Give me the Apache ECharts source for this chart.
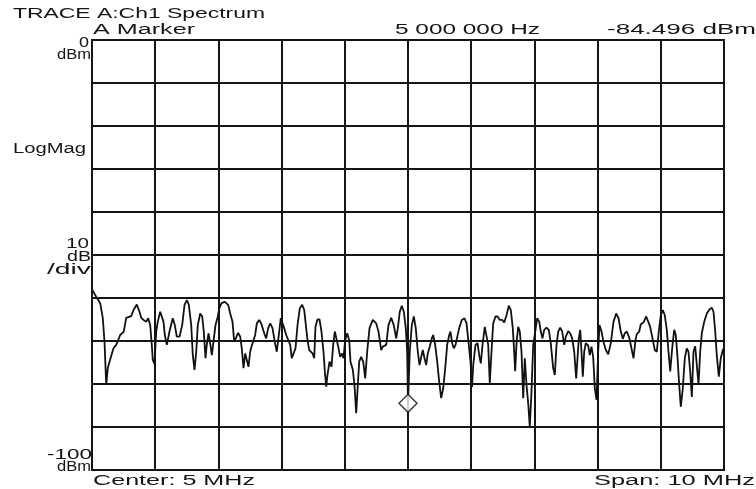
<!DOCTYPE html>
<html><head><meta charset="utf-8">
<script src="https://cdn.jsdelivr.net/npm/echarts@6/dist/echarts.min.js"></script>
<style>html,body{margin:0;padding:0;background:#fff}#c{width:756px;height:489px}</style>
</head><body><div id="c"></div>
<script>
// ---- data ----
const freqMHz = [0,0.066,0.130,0.171,0.198,0.225,0.250,0.277,0.304,0.340,
0.383,0.408,0.446,0.472,0.503,0.541,0.566,0.620,0.657,0.709,
0.752,0.778,0.815,0.858,0.889,0.921,0.946,0.962,0.989,1.016,
1.041,1.079,1.104,1.131,1.152,1.184,1.226,1.278,1.310,1.342,
1.384,1.427,1.464,1.500,1.532,1.570,1.595,1.622,1.649,1.674,
1.712,1.744,1.769,1.796,1.816,1.843,1.870,1.896,1.922,1.954,
1.991,2.013,2.049,2.101,2.155,2.187,2.223,2.250,2.275,2.313,
2.345,2.370,2.397,2.424,2.449,2.476,2.503,2.524,2.555,2.582,
2.608,2.646,2.682,2.725,2.756,2.788,2.820,2.856,2.892,2.924,
2.956,2.987,3.009,3.041,3.073,3.104,3.136,3.161,3.188,3.220,
3.252,3.288,3.326,3.358,3.389,3.410,3.437,3.462,3.489,3.516,
3.536,3.568,3.600,3.631,3.663,3.684,3.706,3.726,3.758,3.790,
3.816,3.842,3.873,3.896,3.927,3.953,3.979,4.006,4.038,4.070,
4.090,4.127,4.153,4.180,4.206,4.228,4.259,4.291,4.323,4.354,
4.391,4.443,4.497,4.533,4.576,4.601,4.628,4.655,4.691,4.734,
4.775,4.813,4.839,4.870,4.902,4.934,4.965,4.987,5.000,5.028,
5.060,5.092,5.123,5.155,5.182,5.209,5.234,5.261,5.288,5.313,
5.345,5.377,5.399,5.430,5.462,5.494,5.525,5.557,5.589,5.620,
5.652,5.672,5.699,5.725,5.752,5.778,5.810,5.851,5.894,5.926,
5.957,5.989,6.013,6.032,6.068,6.100,6.131,6.152,6.179,6.215,
6.242,6.269,6.294,6.321,6.348,6.384,6.416,6.453,6.491,6.522,
6.559,6.595,6.627,6.658,6.680,6.696,6.717,6.744,6.769,6.796,
6.823,6.848,6.875,6.902,6.927,6.954,6.981,7.006,7.044,7.076,
7.101,7.128,7.155,7.191,7.228,7.259,7.297,7.323,7.350,7.377,
7.408,7.440,7.472,7.497,7.535,7.566,7.598,7.630,7.661,7.682,
7.703,7.725,7.745,7.766,7.788,7.813,7.851,7.877,7.903,7.930,
7.956,7.983,8.009,8.030,8.062,8.093,8.130,8.168,8.209,8.252,
8.294,8.331,8.367,8.399,8.430,8.462,8.500,8.536,8.568,8.600,
8.620,8.658,8.684,8.726,8.769,8.801,8.832,8.869,8.905,8.937,
8.968,9.000,9.032,9.063,9.095,9.122,9.149,9.180,9.212,9.237,
9.264,9.291,9.316,9.348,9.380,9.411,9.438,9.465,9.491,9.517,
9.544,9.570,9.597,9.623,9.649,9.687,9.728,9.771,9.807,9.834,
9.861,9.886,9.918,9.949,9.981,10.0];

const levelDbm = [-58.0,-59.7,-61.2,-64.7,-70.2,-80.2,-76.3,-74.8,-74.4,-71.7,
-70.9,-71.1,-68.6,-69.0,-67.8,-64.6,-64.2,-64.2,-62.8,-61.5,
-63.2,-64.6,-65.1,-65.5,-64.7,-66.3,-70.9,-74.4,-75.3,-67.8,
-65.5,-63.2,-62.8,-65.5,-68.6,-70.9,-67.8,-64.7,-66.3,-69.0,
-69.0,-66.3,-61.6,-60.5,-61.6,-66.3,-73.3,-76.7,-72.5,-66.3,
-63.6,-64.3,-67.8,-74.0,-70.9,-68.2,-70.5,-73.3,-70.2,-66.3,
-64.3,-62.4,-61.2,-60.9,-61.6,-63.6,-65.5,-70.2,-69.4,-68.1,
-69.0,-71.7,-76.3,-72.9,-72.5,-76.0,-72.5,-71.3,-71.7,-68.6,
-65.9,-65.1,-66.1,-68.2,-69.4,-67.0,-65.9,-67.0,-70.2,-72.5,
-68.6,-64.7,-64.3,-67.0,-68.6,-69.0,-70.9,-74.0,-74.4,-71.7,
-66.3,-62.4,-61.6,-62.8,-67.0,-69.8,-72.1,-71.7,-72.9,-74.0,
-66.7,-65.0,-65.0,-67.8,-72.5,-77.1,-80.6,-77.9,-74.8,-76.0,
-70.9,-67.8,-68.2,-71.3,-73.7,-72.9,-74.0,-69.8,-68.2,-69.8,
-74.8,-76.7,-80.2,-86.8,-80.2,-74.8,-73.7,-74.8,-78.7,-72.5,
-67.0,-65.1,-65.9,-67.8,-72.1,-71.3,-71.7,-70.9,-66.3,-64.6,
-66.3,-69.4,-67.0,-63.2,-61.8,-63.2,-67.0,-72.5,-84.5,-72.5,
-66.3,-64.3,-67.0,-72.5,-75.6,-73.7,-72.1,-74.0,-75.6,-72.9,
-71.3,-69.4,-68.6,-70.9,-74.8,-79.5,-83.3,-81.0,-76.3,-70.9,
-68.6,-67.8,-70.5,-71.7,-70.9,-71.3,-67.0,-65.1,-64.7,-65.9,
-70.2,-74.8,-80.7,-75.6,-70.9,-70.5,-73.7,-75.2,-70.9,-66.7,
-67.0,-70.9,-79.8,-72.5,-65.9,-64.3,-64.3,-65.1,-65.1,-65.7,
-64.0,-61.8,-62.8,-67.0,-72.5,-77.0,-70.5,-66.7,-67.8,-72.5,
-83.3,-74.0,-80.2,-84.5,-89.9,-81.8,-70.9,-68.6,-64.7,-65.5,
-67.8,-69.4,-67.4,-66.9,-67.4,-70.5,-76.3,-77.9,-70.9,-67.8,
-66.9,-67.8,-70.9,-69.0,-67.7,-68.2,-69.4,-72.5,-78.7,-74.0,
-69.4,-67.4,-72.5,-78.3,-72.5,-70.5,-71.1,-73.3,-71.3,-73.7,
-81.0,-83.7,-72.5,-66.3,-67.8,-70.2,-72.1,-73.1,-70.5,-65.5,
-63.6,-64.7,-67.8,-69.5,-68.2,-67.8,-69.2,-71.7,-74.0,-69.8,
-68.4,-67.8,-66.1,-65.7,-64.3,-65.5,-66.7,-69.4,-72.1,-72.5,
-67.8,-64.0,-62.8,-64.0,-67.4,-72.5,-77.1,-71.7,-67.4,-68.6,
-73.7,-80.2,-85.3,-81.0,-74.0,-71.7,-72.5,-77.1,-83.0,-72.5,
-71.2,-75.6,-80.2,-72.5,-68.2,-65.5,-63.6,-62.6,-62.3,-63.2,
-67.8,-73.3,-78.3,-74.0,-72.1,-71.7];

const markerFreq = [5];
const markerLevel = [-84.496];

const freqMin = 0, freqMax = 10, freqStep = 1;
const levelMin = -100, levelMax = 0, levelStep = 10;

const titleText = 'TRACE A:Ch1 Spectrum';
const markerLabel = 'A Marker';
const markerFreqText = '5 000 000 Hz';
const markerLevelText = '-84.496 dBm';
const refLevelText = ['0', 'dBm'];
const formatText = 'LogMag';
const scaleText = ['10', 'dB', '/div'];
const bottomLevelText = ['-100', 'dBm'];
const centerText = 'Center: 5 MHz';
const spanText = 'Span: 10 MHz';

// ---- chart ----
const chart = echarts.init(document.getElementById('c'), null, {renderer: 'canvas'});
const ink = '#161616';
const FONT_FAMILY = '"Liberation Sans", Arial, sans-serif';
const mctx = document.createElement('canvas').getContext('2d');
function label(text, left, right, cy, size) {
  const font = size + 'px ' + FONT_FAMILY;
  mctx.font = font;
  const w = mctx.measureText(text).width;
  const sx = (right - left) / w;
  return {
    type: 'text', x: left, y: cy, scaleX: sx, silent: true, z: 100,
    style: { text: text, font: font, fill: ink, align: 'left', verticalAlign: 'middle',
             textAlign: 'left', textVerticalAlign: 'middle' }
  };
}

const tracePts = freqMHz.map((f, i) => [f, levelDbm[i]]);
const markerPts = markerFreq.map((f, i) => [f, markerLevel[i]]);

chart.setOption({
  animation: false,
  backgroundColor: '#fff',
  grid: { left: 92, top: 40, width: 632, height: 430, show: true, borderColor: ink, borderWidth: 2, containLabel: false },
  xAxis: {
    type: 'value', min: freqMin, max: freqMax, interval: freqStep,
    axisLabel: { show: false }, axisTick: { show: false },
    axisLine: { show: true, lineStyle: { color: ink, width: 2 } },
    splitLine: { show: true, lineStyle: { color: ink, width: 2 } }
  },
  yAxis: {
    type: 'value', min: levelMin, max: levelMax, interval: levelStep,
    axisLabel: { show: false }, axisTick: { show: false },
    axisLine: { show: true, lineStyle: { color: ink, width: 2 } },
    splitLine: { show: true, lineStyle: { color: ink, width: 2 } }
  },
  series: [
    { type: 'line', data: tracePts, showSymbol: false, symbol: 'none', smooth: false,
      lineStyle: { color: '#111', width: 1.8 }, z: 5 },
    { type: 'scatter', data: markerPts, symbol: 'diamond', symbolSize: [18, 18],
      itemStyle: { color: '#fff', borderColor: '#111', borderWidth: 1.5 }, z: 10 }
  ],
  graphic: [
    label(titleText, 13, 265, 14, 14),
    label(markerLabel, 93, 195, 30, 14),
    label(markerFreqText, 395, 540, 30, 14),
    label(markerLevelText, 607, 756, 30, 14),
    label(refLevelText[0], 79, 89, 43, 14),
    label(refLevelText[1], 57, 91, 55, 14),
    label(formatText, 13, 86, 149, 14),
    label(scaleText[0], 66, 89, 244, 14),
    label(scaleText[1], 67, 91, 257, 14),
    label(scaleText[2], 47, 91, 270, 14),
    label(bottomLevelText[0], 47, 92, 455, 14),
    label(bottomLevelText[1], 57, 91, 467, 14),
    label(centerText, 93, 255, 481, 14),
    label(spanText, 594, 755, 481, 14)
  ]
});
</script>
</body></html>
